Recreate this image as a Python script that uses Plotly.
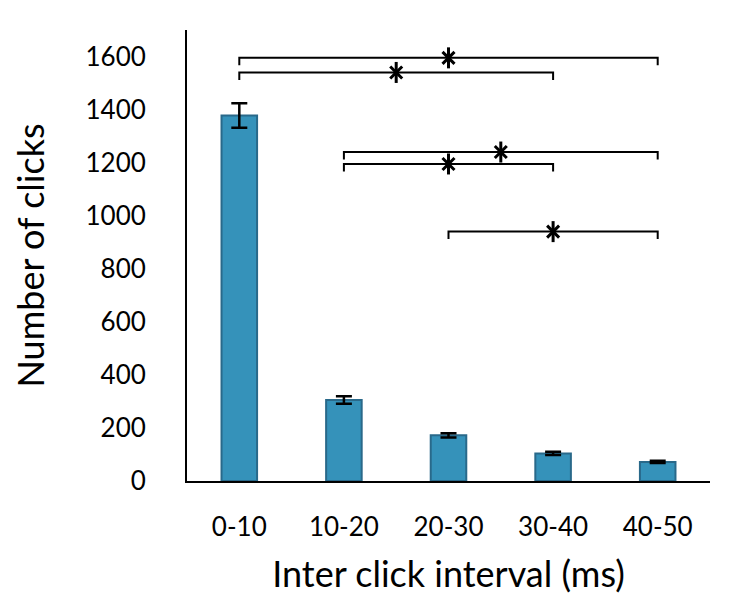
import plotly.graph_objects as go

categories = ["0-10", "10-20", "20-30", "30-40", "40-50"]
clicks = [1378, 305, 172, 104, 72]
errors = [46, 14, 8, 6, 4]

# significance brackets: (start index, end index, height, asterisk x index)
bracket_start = [0, 0, 1, 1, 2]
bracket_end = [4, 3, 4, 3, 4]
bracket_height = [1595, 1540, 1240, 1195, 940]
star_pos = [2, 1.5, 2.5, 2, 3]

y_ticks = [0, 200, 400, 600, 800, 1000, 1200, 1400, 1600]

FONT = "Lato"
xs = list(range(len(categories)))

fig = go.Figure()
fig.add_trace(go.Bar(
    x=xs, y=clicks, width=0.34,
    marker=dict(color="#3592BA", line=dict(color="#29698A", width=2)),
    error_y=dict(type="data", array=errors, visible=True, color="black",
                 thickness=2.5, width=8),
    showlegend=False,
))

tick_drop = 28
for s, e, h in zip(bracket_start, bracket_end, bracket_height):
    fig.add_trace(go.Scatter(
        x=[s, s, e, e], y=[h - tick_drop, h, h, h - tick_drop],
        mode="lines", line=dict(color="black", width=2),
        showlegend=False, hoverinfo="skip",
    ))

for sym in ["x-thin-open", "line-ns-open"]:
    fig.add_trace(go.Scatter(
        x=star_pos, y=bracket_height, mode="markers",
        marker=dict(symbol=sym, size=12 if sym == "x-thin-open" else 15,
                    color="black", line=dict(color="black", width=3)),
        showlegend=False, hoverinfo="skip",
    ))

fig.update_layout(
    width=730, height=587,
    margin=dict(l=179, r=28, t=22, b=114),
    plot_bgcolor="white", paper_bgcolor="white",
    font=dict(family=FONT, color="black", size=22),
)
fig.update_xaxes(
    range=[-0.5, 4.5], tickmode="array", tickvals=xs, ticktext=categories,
    showline=True, linecolor="black", linewidth=2, showgrid=False,
    zeroline=False, ticks="", ticklabelstandoff=22, automargin=False,
    tickfont=dict(size=26, family=FONT),
    title=dict(text="Inter click interval (ms)", font=dict(size=36, family=FONT), standoff=25),
)
fig.update_yaxes(
    range=[0, 1700], tickmode="array", tickvals=y_ticks,
    showline=True, linecolor="black", linewidth=2, showgrid=False,
    zeroline=False, ticks="", ticklabelstandoff=34, automargin=False,
    tickfont=dict(size=26, family=FONT),
    title=dict(text="Number of clicks", font=dict(size=36, family=FONT), standoff=38),
)

fig.write_html("out.html")
